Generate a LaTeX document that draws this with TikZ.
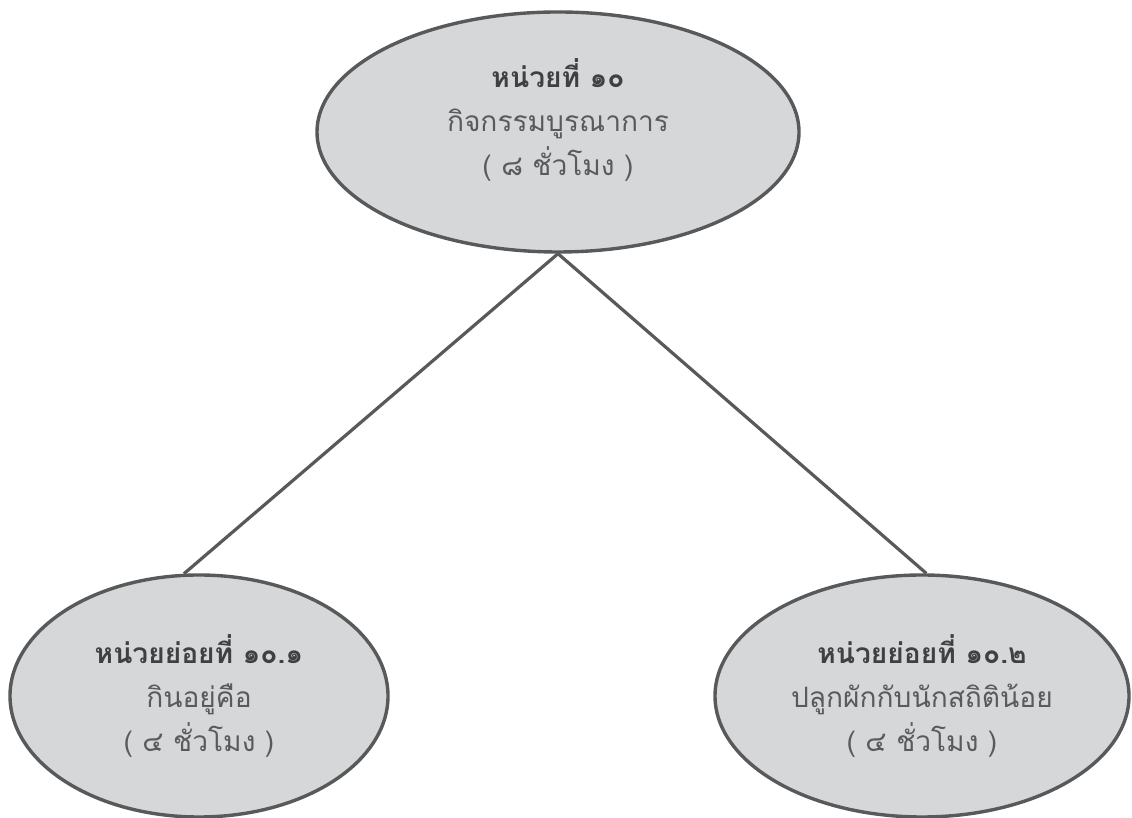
\documentclass[tikz,border=0pt]{standalone}
\usepackage{fontspec}
\newfontfamily\thaifont[Script=Thai]{Loma}
\usetikzlibrary{shapes.geometric}
\definecolor{unitfill}{RGB}{214,215,217}
\definecolor{unitline}{RGB}{88,89,91}
\definecolor{titletext}{RGB}{64,64,66}
\definecolor{bodytext}{RGB}{90,90,92}
\tikzset{
	unit/.style={ellipse, draw=unitline, fill=unitfill, line width=0.85mm, inner sep=0pt},
	unitlabel/.style={align=center, text=bodytext, font=\thaifont\fontsize{20}{31}\selectfont},
	link/.style={draw=unitline, line width=0.8mm}
}
\newcommand{\unittitle}[1]{{\bfseries\color{titletext}#1}}

\begin{document}
\begin{tikzpicture}
		%%%%% START %%%%%
		
		\useasboundingbox (0, 0) rectangle (28.3, 20.45);
		
		\node[unit, minimum width=12.05cm, minimum height=6cm] (main) at (13.95, 17.15) {};
		\node[unit, minimum width=9.45cm, minimum height=6.05cm] (eat) at (4.975, 3.05) {};
		\node[unit, minimum width=10.35cm, minimum height=6.05cm] (grow) at (23.05, 3.05) {};
		
		\draw[link] (main.south) -- (eat.97.5);
		\draw[link] (main.south) -- (grow.88);
		
		\node[unitlabel] (maintext) at ([yshift=0.3cm]main.center) {\unittitle{หน่วยที่ ๑๐}\\ กิจกรรมบูรณาการ\\ ( ๘ ชั่วโมง )};
		\node[unitlabel] (eattext) at (eat.center) {\unittitle{หน่วยย่อยที่ ๑๐.๑}\\ กินอยู่คือ\\ ( ๔ ชั่วโมง )};
		\node[unitlabel] (growtext) at (grow.center) {\unittitle{หน่วยย่อยที่ ๑๐.๒}\\ ปลูกผักกับนักสถิติน้อย\\ ( ๔ ชั่วโมง )};
		
		%%%%% END %%%%%
	\end{tikzpicture}
\end{document}
